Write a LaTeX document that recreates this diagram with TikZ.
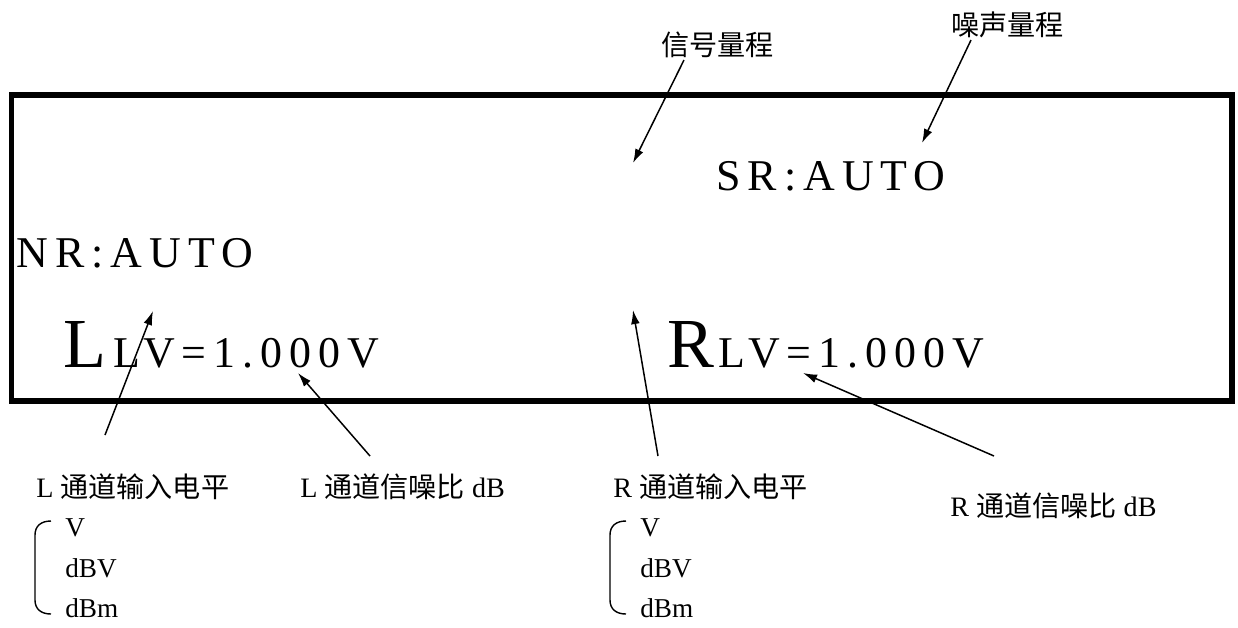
\documentclass[tikz,border=0pt]{standalone}
\usepackage{fontspec}
\setmainfont{Liberation Serif}
\newfontfamily\cjk{Noto Sans CJK SC}
\newfontfamily\lcdfont[LetterSpace=16]{Liberation Serif}
\usetikzlibrary{arrows.meta}
\tikzset{
  lcd/.style={inner sep=0pt, anchor=base west, font=\lcdfont\fontsize{25}{30}\selectfont},
  bigch/.style={inner sep=0pt, anchor=base west, font=\fontsize{40}{48}\selectfont},
  note/.style={inner sep=0pt, anchor=west, font=\fontsize{16}{19}\selectfont},
  unit/.style={inner sep=0pt, anchor=base west, font=\fontsize{15.5}{18}\selectfont},
  pointer/.style={line width=0.85pt, -{Latex[length=8pt,width=5pt]}}
}
\begin{document}
\begin{tikzpicture}[x=0.02cm, y=-0.02cm]
  \useasboundingbox (0,0) rectangle (1238,627);
  % Ecran
  \draw[line width=3.4pt] (11.5,95) rectangle (1232,401);

  % Affichage
  \node[lcd] (nr) at (16,267) {NR:AUTO};
  \node[lcd] (sr) at (716,190) {SR:AUTO};
  \node[bigch] (chL) at (63,367) {L};
  \node[lcd] (lvL) at (113,367) {LV=1.000V};
  \node[bigch] (chR) at (667,367) {R};
  \node[lcd] (lvR) at (718,367) {LV=1.000V};

  % Legendes
  \node[note] (sigRange) at (661,45) {\cjk 信号量程};
  \node[note] (noiseRange) at (951,25) {\cjk 噪声量程};
  \node[note] (levelL) at (36,487) {L {\cjk 通道输入电平}};
  \node[note] (snrL) at (300,487) {L {\cjk 通道信噪比} dB};
  \node[note] (levelR) at (613,487) {R {\cjk 通道输入电平}};
  \node[note] (snrR) at (950,506) {R {\cjk 通道信噪比} dB};

  % Unites
  \foreach \bx/\side in {35/L,610/R} {
    \draw[line width=0.8pt] (\bx+16,521) .. controls (\bx+6,521) and (\bx,526) .. (\bx,535)
      -- (\bx,600) .. controls (\bx,609) and (\bx+6,614) .. (\bx+16,614);
    \node[unit] (uV\side) at (\bx+30,536) {V};
    \node[unit] (udBV\side) at (\bx+30,577) {dBV};
    \node[unit] (udBm\side) at (\bx+30,617) {dBm};
  }

  % Fleches
  \coordinate (sigTail) at (684,60);   \coordinate (sigTip) at (633,163);
  \coordinate (noiseTail) at (971,40); \coordinate (noiseTip) at (922,143);
  \coordinate (levelLTail) at (105,435); \coordinate (levelLTip) at (153,311);
  \coordinate (snrLTail) at (370,456); \coordinate (snrLTip) at (298,373);
  \coordinate (levelRTail) at (658,456); \coordinate (levelRTip) at (633,310);
  \coordinate (snrRTail) at (994,456); \coordinate (snrRTip) at (803,373);
  \foreach \a in {sig,noise,levelL,snrL,levelR,snrR}
    \draw[pointer] (\a Tail) -- (\a Tip);
\end{tikzpicture}
\end{document}
